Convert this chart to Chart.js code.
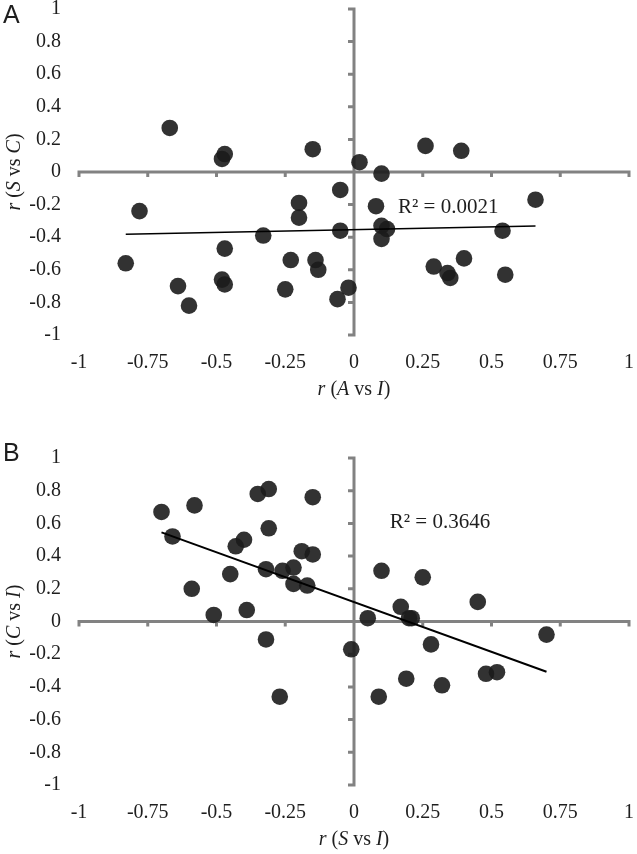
<!DOCTYPE html>
<html>
<head>
<meta charset="utf-8">
<script src="https://cdn.jsdelivr.net/npm/chart.js@4.4.1/dist/chart.umd.min.js"></script>
<style>
    html, body { margin: 0; padding: 0; background: #fff; overflow: hidden; }
    body { width: 637px; height: 854px; position: relative; }
    .panel { position: absolute; left: 0; width: 650px; }
    #panelA { top: -26px; height: 436px; }
    #panelB { top: 420px; height: 434px; }
</style>
</head>
<body>
<div class="panel" id="panelA"><canvas id="chartA"></canvas></div>
<div class="panel" id="panelB"><canvas id="chartB"></canvas></div>
<script>
// ============================================================
// Data
// ============================================================

// Shared tick values
const xTickValues = [-1, -0.75, -0.5, -0.25, 0, 0.25, 0.5, 0.75, 1];
const yTickValues = [-1, -0.8, -0.6, -0.4, -0.2, 0, 0.2, 0.4, 0.6, 0.8, 1];

// Panel A — r(A vs I) against r(S vs C)
const aX = [-0.67, -0.48, -0.47, -0.15, 0.02, 0.26, 0.39, 0.10, -0.05, -0.20,
            -0.20, -0.78, 0.08, 0.66, -0.05, 0.10, 0.12, 0.10, 0.54, -0.33,
            -0.47, -0.83, -0.23, -0.14, -0.13, -0.64, -0.48, -0.47, -0.60, -0.25,
            -0.02, -0.06, 0.29, 0.40, 0.34, 0.35, 0.55];
const aY = [0.27, 0.08, 0.11, 0.14, 0.06, 0.16, 0.13, -0.01, -0.11, -0.19,
            -0.28, -0.24, -0.21, -0.17, -0.36, -0.33, -0.35, -0.41, -0.36, -0.39,
            -0.47, -0.56, -0.54, -0.54, -0.60, -0.70, -0.66, -0.69, -0.82, -0.72,
            -0.71, -0.78, -0.58, -0.53, -0.62, -0.65, -0.63];
const aTrend = { slope: 0.034, intercept: -0.354 };
const aR2 = 'R² = 0.0021';

// Panel B — r(S vs I) against r(C vs I)
const bX = [-0.70, -0.58, -0.66, -0.35, -0.31, -0.15, -0.31, -0.40, -0.43, -0.19,
            -0.15, -0.32, -0.26, -0.22, -0.45, -0.22, -0.17, -0.59, -0.51, -0.39,
            0.10, 0.25, 0.45, 0.17, 0.05, 0.20, 0.21, -0.01, 0.28, 0.70,
            0.19, 0.32, 0.48, 0.52, 0.09, -0.32, -0.27];
const bY = [0.67, 0.71, 0.52, 0.78, 0.81, 0.76, 0.57, 0.50, 0.46, 0.43,
            0.41, 0.32, 0.31, 0.33, 0.29, 0.23, 0.22, 0.20, 0.04, 0.07,
            0.31, 0.27, 0.12, 0.09, 0.02, 0.02, 0.02, -0.17, -0.14, -0.08,
            -0.35, -0.39, -0.32, -0.31, -0.46, -0.11, -0.46];
const bTrend = { slope: -0.609, intercept: 0.119 };
const bR2 = 'R² = 0.3646';

// Axis titles: [text, italic]
const aXTitle = [['r', true], [' (', false], ['A', true], [' vs ', false], ['I', true], [')', false]];
const aYTitle = [['r', true], [' (', false], ['S', true], [' vs ', false], ['C', true], [')', false]];
const bXTitle = [['r', true], [' (', false], ['S', true], [' vs ', false], ['I', true], [')', false]];
const bYTitle = [['r', true], [' (', false], ['C', true], [' vs ', false], ['I', true], [')', false]];

// ============================================================
// Styling
// ============================================================
const SERIF = "'Liberation Serif', 'Times New Roman', serif";
const SANS = "'Liberation Sans', Arial, sans-serif";
const TEXT = '#1e1e1e';
const AXIS_GRAY = '#828282';
const DOT = 'rgba(28, 28, 28, 0.9)';

const fmt = v => String(+Number(v).toFixed(2));

// Draw a line of mixed italic / upright text centred on (cx, cy)
function drawRich(ctx, parts, cx, cy, rotate) {
    ctx.save();
    ctx.translate(cx, cy);
    if (rotate) ctx.rotate(-Math.PI / 2);
    const fontOf = it => `${it ? 'italic ' : ''}20px ${SERIF}`;
    let total = 0;
    parts.forEach(([t, it]) => { ctx.font = fontOf(it); total += ctx.measureText(t).width; });
    let x = -total / 2;
    ctx.textBaseline = 'middle';
    ctx.textAlign = 'left';
    ctx.fillStyle = TEXT;
    parts.forEach(([t, it]) => {
        ctx.font = fontOf(it);
        ctx.fillText(t, x, 0);
        x += ctx.measureText(t).width;
    });
    ctx.restore();
}

// Grey axes crossing at (0, 0) with outward tick marks
const crossAxes = {
    id: 'crossAxes',
    beforeDatasetsDraw(chart) {
        const { ctx, scales: { x, y } } = chart;
        const x0 = x.getPixelForValue(0);
        const y0 = y.getPixelForValue(0);
        ctx.save();
        ctx.strokeStyle = AXIS_GRAY;
        ctx.lineWidth = 3;
        ctx.beginPath();
        ctx.moveTo(x.left - 1.5, y0); ctx.lineTo(x.right + 1.5, y0);
        ctx.moveTo(x0, y.top - 1.5); ctx.lineTo(x0, y.bottom + 1.5);
        x.ticks.forEach(t => {
            const px = x.getPixelForValue(t.value);
            ctx.moveTo(px, y0); ctx.lineTo(px, y0 + 5);
        });
        y.ticks.forEach(t => {
            const py = y.getPixelForValue(t.value);
            ctx.moveTo(x0, py); ctx.lineTo(x0 - 6, py);
        });
        ctx.stroke();
        ctx.restore();
    }
};

// Panel letter, axis titles and R² label
const panelText = {
    id: 'panelText',
    afterDraw(chart, args, opts) {
        const { ctx, chartArea, scales: { x, y } } = chart;
        ctx.save();
        ctx.fillStyle = TEXT;
        ctx.font = `25px ${SANS}`;
        ctx.textBaseline = 'top';
        ctx.textAlign = 'left';
        ctx.fillText(opts.letter, 3, opts.letterTop);

        ctx.font = `21px ${SERIF}`;
        ctx.textBaseline = 'alphabetic';
        ctx.fillText(opts.r2, x.getPixelForValue(opts.r2At[0]), y.getPixelForValue(opts.r2At[1]));
        ctx.restore();

        const cx = (chartArea.left + chartArea.right) / 2;
        drawRich(ctx, opts.xTitle, cx, chartArea.bottom + 55, false);
        drawRich(ctx, opts.yTitle, 15, (chartArea.top + chartArea.bottom) / 2, true);
    }
};

function buildChart(canvasId, xs, ys, trend, cfg) {
    const points = xs.map((v, i) => ({ x: v, y: ys[i] }));
    const lo = Math.min(...xs);
    const hi = Math.max(...xs);
    const trendLine = [lo, hi].map(v => ({ x: v, y: trend.slope * v + trend.intercept }));

    return new Chart(document.getElementById(canvasId), {
        type: 'scatter',
        data: {
            datasets: [
                {
                    type: 'line',
                    data: trendLine,
                    borderColor: '#000',
                    borderWidth: cfg.trendWidth,
                    pointRadius: 0,
                    order: 0
                },
                {
                    data: points,
                    backgroundColor: DOT,
                    borderWidth: 0,
                    pointRadius: 8.3,
                    order: 1
                }
            ]
        },
        options: {
            responsive: true,
            maintainAspectRatio: false,
            animation: false,
            events: [],
            layout: { padding: { left: 0, right: 0, top: cfg.top, bottom: 0 } },
            plugins: {
                legend: { display: false },
                tooltip: { enabled: false },
                panelText: cfg.text
            },
            scales: {
                x: {
                    type: 'linear', min: -1, max: 1,
                    afterBuildTicks: s => { s.ticks = xTickValues.map(v => ({ value: v })); },
                    afterFit: s => { s.height = cfg.xHeight; },
                    grid: { display: false, drawTicks: false },
                    border: { display: false },
                    ticks: {
                        color: TEXT, padding: 16, maxRotation: 0, autoSkip: false,
                        font: { family: SERIF, size: 20 },
                        callback: fmt
                    }
                },
                y: {
                    type: 'linear', min: -1, max: 1,
                    afterBuildTicks: s => { s.ticks = yTickValues.map(v => ({ value: v })); },
                    afterFit: s => { s.width = 79; },
                    grid: { display: false, drawTicks: false },
                    border: { display: false },
                    ticks: {
                        color: TEXT, padding: 18, autoSkip: false,
                        font: { family: SERIF, size: 20 },
                        callback: fmt
                    }
                }
            }
        },
        plugins: [crossAxes, panelText]
    });
}

buildChart('chartA', aX, aY, aTrend, {
    top: 35, xHeight: 75, trendWidth: 1.4,
    text: { letter: 'A', letterTop: 30, r2: aR2, r2At: [0.16, -0.25], xTitle: aXTitle, yTitle: aYTitle }
});

buildChart('chartB', bX, bY, bTrend, {
    top: 38, xHeight: 69, trendWidth: 2,
    text: { letter: 'B', letterTop: 22, r2: bR2, r2At: [0.13, 0.57], xTitle: bXTitle, yTitle: bYTitle }
});
</script>
</body>
</html>
